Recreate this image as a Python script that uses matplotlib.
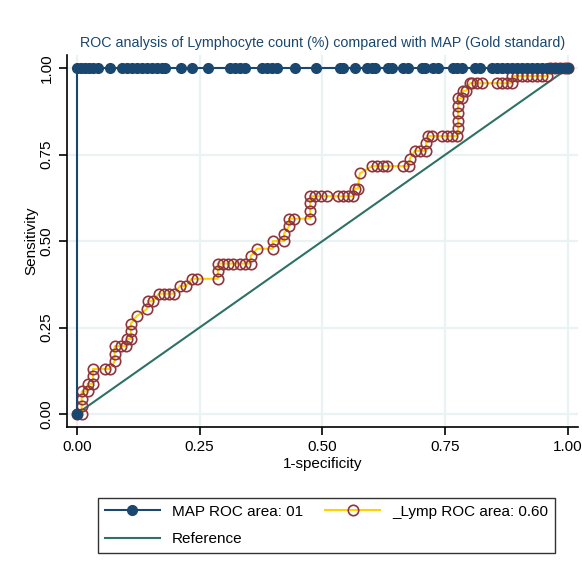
import matplotlib.pyplot as plt

# MAP: perfect classifier, points along the top
map_fpr = [0.0, 0.0, 0.008, 0.016, 0.024, 0.033, 0.043, 0.067, 0.092, 0.102, 0.112, 0.122,
           0.132, 0.143, 0.153, 0.163, 0.173, 0.179, 0.212, 0.234, 0.267, 0.312, 0.322,
           0.332, 0.342, 0.377, 0.387, 0.397, 0.407, 0.444, 0.487, 0.536, 0.542, 0.566,
           0.591, 0.601, 0.607, 0.633, 0.642, 0.664, 0.674, 0.703, 0.709, 0.725, 0.735,
           0.766, 0.774, 0.784, 0.811, 0.821, 0.845, 0.855, 0.866, 0.876, 0.886, 0.896,
           0.906, 0.916, 0.927, 0.937, 0.947, 0.957, 0.967, 0.978, 0.988, 1.0]
map_tpr = [0.0] + [1.0] * (len(map_fpr) - 1)

# Lymphocyte count (%) ROC points
lymp_fpr = [0.000, 0.010, 0.010, 0.010, 0.010, 0.022, 0.022, 0.033, 0.033, 0.033, 0.057,
            0.067, 0.077, 0.077, 0.077, 0.090, 0.100, 0.102, 0.110, 0.110, 0.110, 0.122,
            0.143, 0.145, 0.155, 0.167, 0.177, 0.187, 0.198, 0.210, 0.222, 0.234, 0.244,
            0.287, 0.287, 0.287, 0.297, 0.308, 0.318, 0.332, 0.342, 0.354, 0.354, 0.367,
            0.399, 0.399, 0.422, 0.422, 0.432, 0.432, 0.442, 0.475, 0.475, 0.475, 0.475,
            0.485, 0.497, 0.509, 0.532, 0.542, 0.552, 0.562, 0.566, 0.572, 0.576, 0.601,
            0.611, 0.623, 0.631, 0.664, 0.676, 0.678, 0.688, 0.699, 0.711, 0.711, 0.715,
            0.723, 0.743, 0.754, 0.764, 0.774, 0.776, 0.776, 0.776, 0.776, 0.776, 0.784,
            0.786, 0.792, 0.800, 0.804, 0.815, 0.825, 0.855, 0.866, 0.876, 0.886, 0.886,
            0.896, 0.906, 0.916, 0.927, 0.937, 0.947, 0.957, 0.963, 0.974, 0.984, 0.994,
            1.000]
lymp_tpr = [0.000, 0.000, 0.022, 0.043, 0.065, 0.065, 0.087, 0.087, 0.109, 0.130, 0.130,
            0.130, 0.152, 0.174, 0.196, 0.196, 0.196, 0.217, 0.217, 0.239, 0.261, 0.283,
            0.304, 0.326, 0.326, 0.348, 0.348, 0.348, 0.348, 0.370, 0.370, 0.391, 0.391,
            0.391, 0.413, 0.435, 0.435, 0.435, 0.435, 0.435, 0.435, 0.435, 0.457, 0.478,
            0.478, 0.500, 0.500, 0.522, 0.543, 0.565, 0.565, 0.565, 0.587, 0.609, 0.630,
            0.630, 0.630, 0.630, 0.630, 0.630, 0.630, 0.630, 0.652, 0.652, 0.696, 0.717,
            0.717, 0.717, 0.717, 0.717, 0.717, 0.739, 0.761, 0.761, 0.761, 0.783, 0.804,
            0.804, 0.804, 0.804, 0.804, 0.804, 0.826, 0.848, 0.870, 0.891, 0.913, 0.913,
            0.935, 0.935, 0.957, 0.957, 0.957, 0.957, 0.957, 0.957, 0.957, 0.957, 0.978,
            0.978, 0.978, 0.978, 0.978, 0.978, 0.978, 0.978, 1.000, 1.000, 1.000, 1.000,
            1.000]

ticks = [0.0, 0.25, 0.5, 0.75, 1.0]
tick_labels = ['0.00', '0.25', '0.50', '0.75', '1.00']

plt.rcParams['font.family'] = ['Liberation Sans', 'DejaVu Sans']

fig = plt.figure(figsize=(5.82, 5.81), dpi=100)
ax = fig.add_axes([0.115, 0.265, 0.878, 0.64])

ref_line, = ax.plot([0, 1], [0, 1], color='#2e7265', lw=1.5, zorder=2)
lymp_line, = ax.plot(lymp_fpr, lymp_tpr, color='#ffd200', lw=1.5, marker='o', markersize=7.5,
                     markerfacecolor='none', markeredgecolor='#90353b', markeredgewidth=1.2,
                     zorder=3)
map_line, = ax.plot(map_fpr, map_tpr, color='#1a476f', lw=1.5, marker='o', markersize=7,
                    markerfacecolor='#1a476f', markeredgecolor='#1a476f', zorder=4)

ax.set_xlim(-0.02, 1.02)
ax.set_ylim(-0.038, 1.038)
ax.set_xticks(ticks)
ax.set_xticklabels(tick_labels)
ax.set_yticks(ticks)
ax.set_yticklabels(tick_labels, rotation=90, va='center')
ax.grid(True, color='#eaf2f3', lw=1.6)
ax.set_axisbelow(True)
for s in ['top', 'right']:
    ax.spines[s].set_visible(False)
for s in ['left', 'bottom']:
    ax.spines[s].set_linewidth(1.2)
ax.tick_params(direction='out', length=6, width=1.2, labelsize=11)
ax.set_xlabel('1-specificity', fontsize=11, labelpad=2)
ax.set_ylabel('Sensitivity', fontsize=11, labelpad=1)
ax.set_title('ROC analysis of Lymphocyte count (%) compared with MAP (Gold standard)',
             fontsize=10.3, color='#1a476f', pad=6)

# column-wise fill: MAP & Reference in column 1, Lymp in column 2
leg = fig.legend([map_line, ref_line, lymp_line],
                 ['MAP ROC area: 01', 'Reference', '_Lymp ROC area: 0.60'], ncol=2,
                 loc='center', bbox_to_anchor=(0.168, 0.04, 0.786, 0.111),
                 mode='expand', fontsize=11, handlelength=3.6, frameon=True,
                 fancybox=False, edgecolor='black', borderaxespad=0,
                 labelspacing=0.9, borderpad=0.45)
leg.get_frame().set_linewidth(1.0)

fig.savefig('out.png', dpi=100, facecolor='white')
